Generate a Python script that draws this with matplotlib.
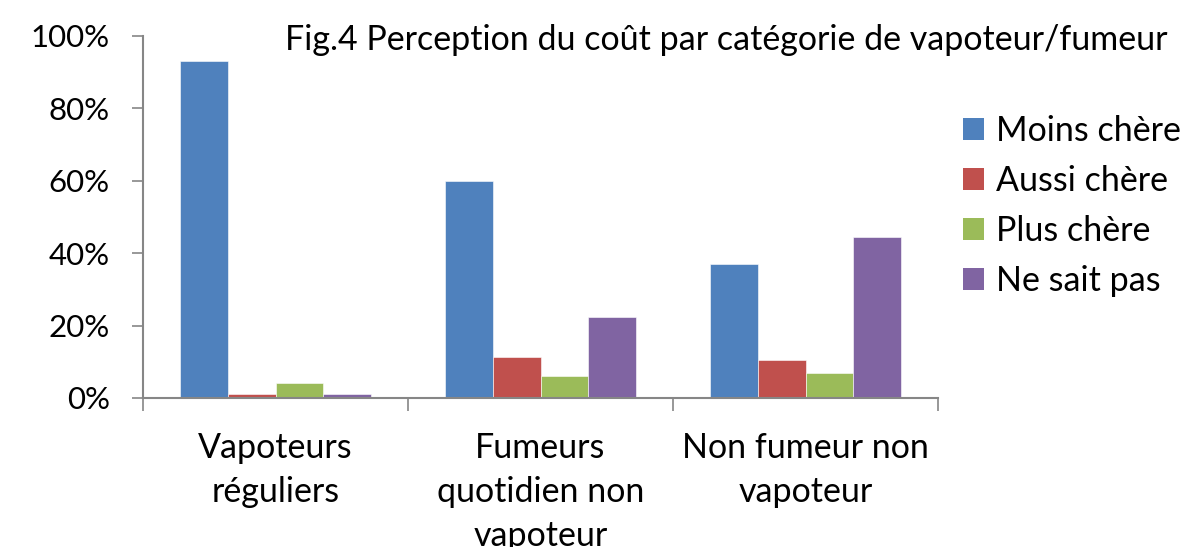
import numpy as np
import matplotlib
matplotlib.use('Agg')
import matplotlib.pyplot as plt
from matplotlib.patches import Patch

categories = ['Vapoteurs\nréguliers', 'Fumeurs\nquotidien non\nvapoteur', 'Non fumeur non\nvapoteur']
series = ['Moins chère', 'Aussi chère', 'Plus chère', 'Ne sait pas']
moins = [93.1, 60.0, 37.1]
aussi = [1.1, 11.3, 10.6]
plus = [4.1, 6.2, 7.0]
nsp = [1.1, 22.5, 44.6]
colors = ['#4F81BD', '#C0504D', '#9BBB59', '#8064A2']
yticks = [0, 20, 40, 60, 80, 100]

plt.rcParams['font.family'] = ['Lato', 'DejaVu Sans']

fig = plt.figure(figsize=(11.86, 5.47), dpi=100)
ax = fig.add_axes([0.1206, 0.2724, 0.6703, 0.6618])

x = np.arange(len(categories))
w = 0.181
for i, (vals, c) in enumerate(zip([moins, aussi, plus, nsp], colors)):
    ax.bar(x + (i - 1.5) * w, vals, width=w, color=c, edgecolor='white', linewidth=0.4)

ax.set_xlim(-0.5, 2.5)
ax.set_ylim(0, 100)
ax.set_yticks(yticks)
ax.set_yticklabels([f'{v}%' for v in yticks], fontsize=22.5)
ax.set_xticks([-0.5, 0.5, 1.5, 2.5])
ax.set_xticklabels([])
ax.tick_params(axis='y', length=8, width=1.2, color='#868686', pad=16)
ax.tick_params(axis='x', length=9, width=1.2, color='#868686')
for s in ['top', 'right']:
    ax.spines[s].set_visible(False)
for s in ['left', 'bottom']:
    ax.spines[s].set_color('#868686')
    ax.spines[s].set_linewidth(1.5)

for xi, lab in zip(x, categories):
    ax.text(xi, -9.3, lab, ha='center', va='top', fontsize=24.5,
            linespacing=1.46, transform=ax.transData, clip_on=False)

fig.text(0.612, 0.927, 'Fig.4 Perception du coût par catégorie de vapoteur/fumeur',
         ha='center', va='center', fontsize=24.5)

handles = [Patch(facecolor=c) for c in colors]
fig.legend(handles, series, loc='upper left', bbox_to_anchor=(0.812, 0.79),
           frameon=False, fontsize=24.5, handlelength=0.62, handleheight=0.62,
           handletextpad=0.35, labelspacing=0.53, borderpad=0, borderaxespad=0)

fig.savefig('out.png', dpi=100)
